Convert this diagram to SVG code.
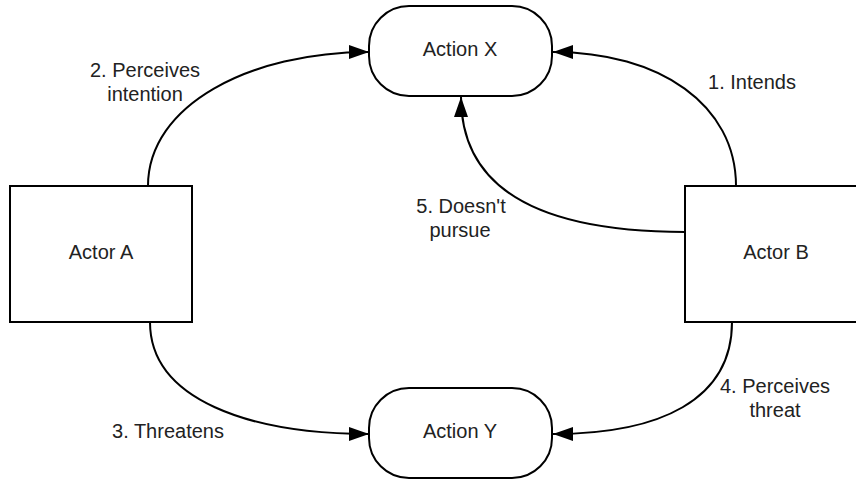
<svg xmlns="http://www.w3.org/2000/svg" width="856" height="480" viewBox="0 0 856 480">
<style>
.node{fill:#fff;stroke:#000;stroke-width:2}
.lbl{font-family:"Liberation Sans",Arial,sans-serif;font-size:20px;fill:#222;text-anchor:middle}
.edge{fill:none;stroke:#000;stroke-width:2;marker-end:url(#arr)}
</style>
<defs>
<marker id="arr" markerUnits="userSpaceOnUse" markerWidth="22" markerHeight="16" refX="20" refY="7" orient="auto">
<path d="M0,0 L20,7 L0,14 z" fill="#000"/>
</marker>
</defs>
<rect width="856" height="480" fill="#fff"/>
<g id="connectors">
<path class="edge" d="M736,186 C736,105 660,52 553,52"/>
<path class="edge" d="M148,186 C148,105 250,52 369,52"/>
<path class="edge" d="M150,322 C150,400 250,434 369,434"/>
<path class="edge" d="M732,322 C732,400 660,434 553,434"/>
<path class="edge" d="M685,232 C560,232 461,200 461,97"/>
<text class="lbl" x="752" y="89">1. Intends</text>
<text class="lbl" x="145" y="77">2. Perceives</text>
<text class="lbl" x="145" y="101">intention</text>
<text class="lbl" x="168" y="438">3. Threatens</text>
<text class="lbl" x="775" y="393">4. Perceives</text>
<text class="lbl" x="775" y="417">threat</text>
<text class="lbl" x="461" y="213">5. Doesn't</text>
<text class="lbl" x="460" y="237">pursue</text>
</g>
<g id="actionX">
<rect class="node" x="369" y="6" width="183" height="90" rx="40" ry="40"/>
<text class="lbl" x="460" y="56">Action X</text>
</g>
<g id="actionY">
<rect class="node" x="369" y="388" width="183" height="90" rx="40" ry="40"/>
<text class="lbl" x="460" y="438">Action Y</text>
</g>
<g id="actorA">
<rect class="node" x="10" y="186" width="182" height="136"/>
<text class="lbl" x="101" y="259">Actor A</text>
</g>
<g id="actorB">
<rect class="node" x="685" y="186" width="182" height="136"/>
<text class="lbl" x="776" y="259">Actor B</text>
</g>
</svg>
